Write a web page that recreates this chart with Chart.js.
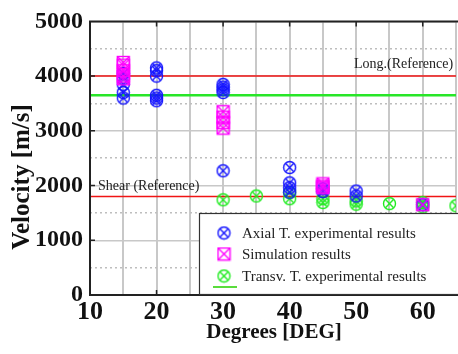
<!DOCTYPE html>
<html>
<head>
<meta charset="utf-8">
<script src="https://cdn.jsdelivr.net/npm/chart.js@4/dist/chart.umd.min.js"></script>
<style>
html, body { margin: 0; padding: 0; background: #fff; overflow: hidden; }
#wrap { width: 461px; height: 354px; }
</style>
</head>
<body>
<div id="wrap"><canvas id="velChart" width="461" height="354"></canvas></div>
<script>
// data
var axialDeg = [15, 15, 15, 15, 15, 20, 20, 20, 20, 20, 20, 30, 30, 30, 30, 30, 40, 40, 40, 40, 45, 45, 50, 50, 60];
var axialVel = [3600, 3700, 3850, 3950, 4050, 4150, 4100, 4000, 3650, 3600, 3550, 3850, 3800, 3750, 3700, 2270, 2330, 2050, 1960, 1880, 1940, 1890, 1900, 1810, 1650];

var simDeg = [15, 15, 15, 15, 15, 30, 30, 30, 30, 45, 45, 45, 60];
var simVel = [4250, 4200, 4100, 4000, 3950, 3350, 3250, 3150, 3050, 2030, 1990, 1960, 1650];

var transvDeg = [30, 35, 40, 40, 45, 45, 50, 50, 55, 60, 60, 65];
var transvVel = [1740, 1810, 1870, 1760, 1760, 1690, 1720, 1660, 1670, 1690, 1610, 1630];

var longRef = 4000;
var shearRef = 1800;
var transvLine = 3650;
var xRange = [10, 65];
var yRange = [0, 5000];

// marker pictures
function makeMarker(color, kind) {
    var c = document.createElement('canvas');
    c.width = 15; c.height = 15;
    var g = c.getContext('2d');
    g.strokeStyle = color;
    g.lineWidth = 1.4;
    if (kind == 'circle') {
        g.beginPath();
        g.arc(7.5, 7.5, 6, 0, Math.PI * 2);
        g.stroke();
        g.beginPath();
        g.moveTo(3.3, 3.3); g.lineTo(11.7, 11.7);
        g.moveTo(11.7, 3.3); g.lineTo(3.3, 11.7);
        g.stroke();
    } else {
        g.strokeRect(1.5, 1.5, 12, 12);
        g.beginPath();
        g.moveTo(1.5, 1.5); g.lineTo(13.5, 13.5);
        g.moveTo(13.5, 1.5); g.lineTo(1.5, 13.5);
        g.stroke();
    }
    return c;
}
var blueMark = makeMarker('rgb(20,20,255)', 'circle');
var pinkMark = makeMarker('rgb(255,0,255)', 'square');
var greenMark = makeMarker('rgb(30,235,30)', 'circle');

function toPts(xs, ys) {
    var out = [];
    for (var i = 0; i < xs.length; i++) out.push({ x: xs[i], y: ys[i] });
    return out;
}

var serif = '"Liberation Serif", "DejaVu Serif", serif';

// extra drawing: border, ticks, titles, ref labels, legend box
var extras = {
    id: 'extras',
    afterDatasetsDraw: function (chart) {
        var ctx = chart.ctx;
        var a = chart.chartArea;
        var xs = chart.scales.x, ys = chart.scales.y;
        ctx.save();
        // frame
        ctx.strokeStyle = '#222';
        ctx.lineWidth = 2;
        ctx.beginPath();
        ctx.moveTo(a.right + 2, a.top);
        ctx.lineTo(a.left, a.top);
        ctx.lineTo(a.left, a.bottom);
        ctx.lineTo(a.right + 2, a.bottom);
        ctx.stroke();
        // inner ticks
        ctx.lineWidth = 1.5;
        ctx.beginPath();
        for (var d = 20; d <= 60; d += 10) {
            var px = xs.getPixelForValue(d);
            ctx.moveTo(px, a.top); ctx.lineTo(px, a.top + 5);
            ctx.moveTo(px, a.bottom); ctx.lineTo(px, a.bottom - 5);
        }
        for (var v = 1000; v < 5000; v += 1000) {
            var py = ys.getPixelForValue(v);
            ctx.moveTo(a.left, py); ctx.lineTo(a.left + 5, py);
        }
        ctx.stroke();
        // axis titles
        ctx.fillStyle = '#111';
        ctx.textAlign = 'center';
        ctx.textBaseline = 'middle';
        ctx.font = 'bold 21px ' + serif;
        ctx.fillText('Degrees [DEG]', 274, 333);
        ctx.save();
        ctx.translate(23, 177);
        ctx.rotate(-Math.PI / 2);
        ctx.font = 'bold 25px ' + serif;
        ctx.fillText('Velocity [m/s]', 0, 0);
        ctx.restore();
        // ref labels
        ctx.fillStyle = '#222';
        ctx.font = '14px ' + serif;
        ctx.textAlign = 'left';
        ctx.fillText('Long.(Reference)', 354, ys.getPixelForValue(longRef) - 12);
        ctx.fillText('Shear (Reference)', 98, ys.getPixelForValue(shearRef) - 10);
        // legend box
        ctx.fillStyle = '#fff';
        ctx.fillRect(199, 213, 270, 81);
        ctx.strokeStyle = '#333';
        ctx.lineWidth = 1.2;
        ctx.strokeRect(199.5, 213.5, 270, 81);
        var items = [
            [blueMark, 'Axial T. experimental results', 233],
            [pinkMark, 'Simulation results', 254],
            [greenMark, 'Transv. T. experimental results', 276]
        ];
        ctx.font = '15px ' + serif;
        ctx.fillStyle = '#222';
        items.forEach(function (it) {
            ctx.drawImage(it[0], 224 - 7.5, it[2] - 7.5);
            ctx.fillText(it[1], 242, it[2] + 1);
        });
        ctx.strokeStyle = 'rgb(90,220,60)';
        ctx.lineWidth = 2;
        ctx.beginPath();
        ctx.moveTo(213, 287); ctx.lineTo(237, 287);
        ctx.stroke();
        ctx.restore();
    }
};

var ctx = document.getElementById('velChart');
var velChart = new Chart(ctx, {
    type: 'scatter',
    data: {
        datasets: [
            {
                label: 'Long.(Reference)',
                type: 'line',
                data: [{ x: xRange[0], y: longRef }, { x: xRange[1] + 1, y: longRef }],
                borderColor: 'rgb(240,20,20)',
                borderWidth: 1.5,
                pointRadius: 0,
                order: 5
            },
            {
                label: 'Shear (Reference)',
                type: 'line',
                data: [{ x: xRange[0], y: shearRef }, { x: xRange[1] + 1, y: shearRef }],
                borderColor: 'rgb(240,20,20)',
                borderWidth: 1.5,
                pointRadius: 0,
                order: 5
            },
            {
                label: 'Transv. line',
                type: 'line',
                data: [{ x: xRange[0], y: transvLine }, { x: xRange[1] + 1, y: transvLine }],
                borderColor: 'rgb(40,230,40)',
                borderWidth: 2.5,
                pointRadius: 0,
                order: 5
            },
            {
                label: 'Transv. T. experimental results',
                data: toPts(transvDeg, transvVel),
                pointStyle: greenMark,
                order: 3
            },
            {
                label: 'Axial T. experimental results',
                data: toPts(axialDeg, axialVel),
                pointStyle: blueMark,
                order: 2
            },
            {
                label: 'Simulation results',
                data: toPts(simDeg, simVel),
                pointStyle: pinkMark,
                order: 1
            }
        ]
    },
    options: {
        responsive: false,
        animation: false,
        layout: { padding: { top: 19, right: 0, left: 0, bottom: 0 } },
        plugins: {
            legend: { display: false },
            tooltip: { enabled: false }
        },
        scales: {
            x: {
                type: 'linear',
                min: xRange[0],
                max: xRange[1],
                ticks: {
                    stepSize: 5,
                    padding: 2,
                    color: '#111',
                    font: { family: serif, size: 26, weight: 'bold' },
                    callback: function (v) { return v % 10 == 0 ? String(v) : ''; }
                },
                grid: { color: 'rgb(200,200,200)', lineWidth: 2, drawTicks: false },
                border: { display: false },
                afterFit: function (s) { s.height = 59; }
            },
            y: {
                min: yRange[0],
                max: yRange[1],
                ticks: {
                    stepSize: 1000,
                    padding: 7,
                    color: '#111',
                    font: { family: serif, size: 24, weight: 'bold' },
                    callback: function (v) { return String(v); }
                },
                grid: { color: 'rgb(200,200,200)', lineWidth: 1.5, drawTicks: false },
                border: { display: false },
                afterFit: function (s) { s.width = 90; }
            },
            y2: {
                position: 'left',
                min: yRange[0],
                max: yRange[1],
                ticks: { stepSize: 500, display: false },
                grid: {
                    color: function (c) { return c.tick && c.tick.value % 1000 != 0 ? 'rgb(190,190,190)' : 'rgba(0,0,0,0)'; },
                    lineWidth: 1.5,
                    drawTicks: false
                },
                border: { display: false, dash: [2, 3] },
                afterFit: function (s) { s.width = 0; }
            }
        }
    },
    plugins: [extras]
});
</script>
</body>
</html>
